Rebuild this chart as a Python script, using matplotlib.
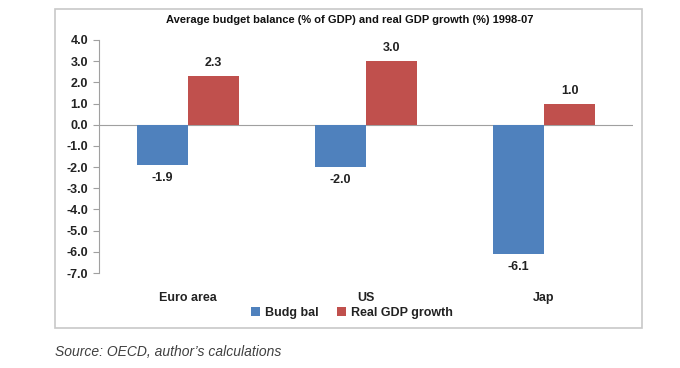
import matplotlib
matplotlib.use("Agg")
import matplotlib.pyplot as plt
from matplotlib.patches import Rectangle
import numpy as np

categories = ["Euro area", "US", "Jap"]
budget_balance = [-1.9, -2.0, -6.1]
gdp_growth = [2.3, 3.0, 1.0]
yticks = [4, 3, 2, 1, 0, -1, -2, -3, -4, -5, -6, -7]
title = "Average budget balance (% of GDP) and real GDP growth (%) 1998-07"
source = "Source: OECD, author\u2019s calculations"

blue = "#4F81BD"
red = "#C0504D"

plt.rcParams['font.family'] = ['Liberation Sans', 'DejaVu Sans']

fig = plt.figure(figsize=(6.8, 3.68), dpi=100)
ax = fig.add_axes([99/680, 1 - 273/368, (633-99)/680, (273-40)/368])

x = np.arange(len(categories))
w = 0.287
b1 = ax.bar(x - w/2, budget_balance, w, color=blue, label="Budg bal", zorder=2)
b2 = ax.bar(x + w/2, gdp_growth, w, color=red, label="Real GDP growth", zorder=2)

for rect, v in zip(b1, budget_balance):
    ax.annotate(f"{v:.1f}", (rect.get_x() + rect.get_width()/2, v),
                xytext=(0, -13), textcoords="offset pixels",
                ha="center", va="center", fontsize=9, fontweight="bold", color="#222222")
for rect, v in zip(b2, gdp_growth):
    ax.annotate(f"{v:.1f}", (rect.get_x() + rect.get_width()/2, v),
                xytext=(0, 13), textcoords="offset pixels",
                ha="center", va="center", fontsize=9, fontweight="bold", color="#222222")

ax.set_xlim(-0.5, len(categories) - 0.5)
ax.set_ylim(-7, 4)
ax.set_yticks(yticks)
ax.set_yticklabels([f"{t:.1f}" for t in yticks], fontsize=9, fontweight="bold", color="#222222")
ax.set_xticks(x)
ax.set_xticklabels(categories, fontsize=9, fontweight="bold", color="#222222")
ax.tick_params(axis="x", length=0, pad=14)
ax.tick_params(axis="y", length=4, width=0.8, color="#A0A0A0", pad=4, direction="out")
ax.axhline(0, color="#A0A0A0", lw=0.8, zorder=1)
for s in ["top", "right", "bottom"]:
    ax.spines[s].set_visible(False)
ax.spines["left"].set_color("#A0A0A0")
ax.spines["left"].set_linewidth(0.8)

leg = fig.legend(handles=[b1, b2], loc="center", bbox_to_anchor=(352/680, 1 - 313/368),
                 ncol=2, frameon=False, fontsize=9, handlelength=0.7, handleheight=0.7,
                 handletextpad=0.4, columnspacing=1.5)
for t in leg.get_texts():
    t.set_fontweight("bold")
    t.set_color("#222222")

fig.text(350/680, 1 - 20/368, title, ha="center", va="center", fontsize=8,
         fontweight="bold", color="#111111")

fig.patches.append(Rectangle((55/680, 1 - 328/368), (642-55)/680, (328-9)/368,
                             transform=fig.transFigure, fill=False,
                             edgecolor="#C8C8C8", lw=1.2))

fig.text(55/680, 1 - 352/368, source, ha="left", va="center", fontsize=10,
         fontstyle="italic", color="#404040")

fig.savefig("out.png", dpi=100)
